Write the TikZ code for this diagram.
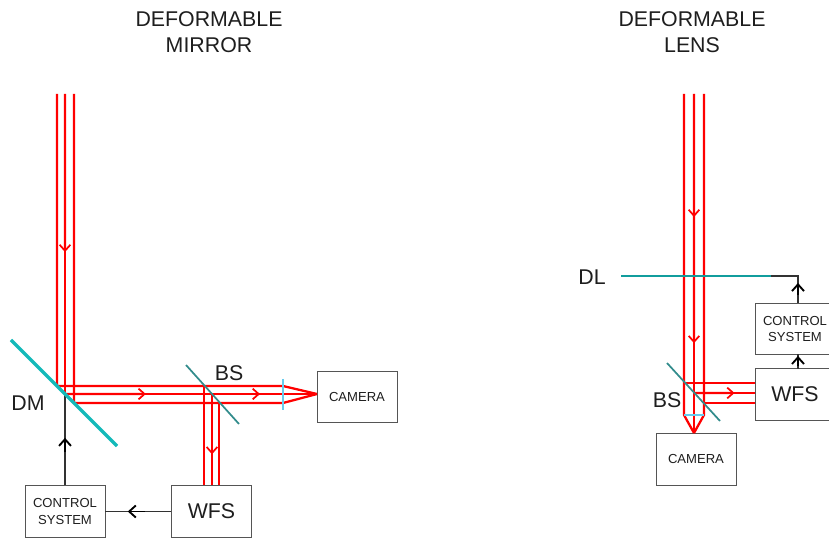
\documentclass[tikz,border=0pt]{standalone}
\usepackage{xcolor}
\usepackage{fontspec}
\setmainfont{Liberation Sans}
\usetikzlibrary{arrows.meta,calc}
\definecolor{beamred}{RGB}{255,0,0}
\definecolor{mirrorteal}{RGB}{20,185,185}
\definecolor{splitteal}{RGB}{50,140,140}
\definecolor{lensblue}{RGB}{102,204,238}
\definecolor{boxgray}{RGB}{85,85,85}
\definecolor{wiregray}{RGB}{50,50,50}
\definecolor{inkgray}{RGB}{30,30,30}
\tikzset{
  beam/.style={line width=1.7pt, color=beamred},
  wire/.style={line width=0.8pt, color=wiregray},
  unitbox/.style={draw=boxgray, line width=0.7pt, minimum width=60pt, minimum height=38.5pt, inner sep=0pt, align=center, text=inkgray, font=\fontsize{9.8}{12.4}\selectfont},
  biglabel/.style={text=inkgray, align=center, inner sep=0pt, font=\fontsize{16}{19}\selectfont},
  redtip/.style={line width=1.7pt, color=beamred, -{Straight Barb[length=4.5pt,width=8pt,line width=1.3pt]}},
  blacktip/.style={line width=1.2pt, color=black, -{Straight Barb[length=5pt,width=9pt,line width=1.4pt]}},
}
\begin{document}
\begin{tikzpicture}[x=0.75pt, y=-0.75pt]
\useasboundingbox (0,0) rectangle (829,538);
\clip (0,0) rectangle (829,538);
% titles
\node[biglabel] (titlemirror) at (209,32) {DEFORMABLE\\MIRROR};
\node[biglabel] (titlelens) at (692,32) {DEFORMABLE\\LENS};
% mirror side
\node[unitbox] (cameraM) at (357,397) {CAMERA};
\node[unitbox, font=\fontsize{16}{19}\selectfont] (wfsM) at (211.5,511.5) {WFS};
\node[unitbox] (controlM) at (65,511.5) {CONTROL\\SYSTEM};
\coordinate (inA) at (57,94);
\coordinate (inB) at (65,94);
\coordinate (inC) at (74,94);
\coordinate (dmA) at (57,386);
\coordinate (dmB) at (65,394);
\coordinate (dmC) at (74,403);
\coordinate (lensA) at (283,386);
\coordinate (lensC) at (283,403);
\coordinate (bsA) at (204,386);
\coordinate (bsB) at (212,394);
\coordinate (bsC) at (219,403);
\coordinate (focusM) at (317,394);
\draw[beam, line join=round] (inA) -- (dmA) -- (lensA) -- (focusM);
\draw[beam] (inB) -- (dmB);
\draw[beam, line join=round] (inC) -- (dmC) -- (lensC) -- (focusM);
\draw[beam] (dmB) -- (focusM);
\draw[beam] (bsA) -- (bsA |- wfsM.north);
\draw[beam] (bsB) -- (bsB |- wfsM.north);
\draw[beam] (bsC) -- (bsC |- wfsM.north);
\draw[redtip] (inB) -- ($(inB)!0.527!(dmB)$);
\draw[redtip] (dmB) -- ($(dmB)!0.55!(bsB)$);
\draw[redtip] (bsB) -- ($(bsB)!0.457!(focusM)$);
\draw[redtip] (bsB) -- ($(bsB)!0.66!(bsB |- wfsM.north)$);
\draw[wire] (controlM.north) -- (dmB);
\draw[wire] (wfsM.west) -- (controlM.east);
\draw[blacktip] ($(controlM.north)!0.36!(dmB)$) -- ($(controlM.north)!0.52!(dmB)$);
\draw[blacktip] ($(wfsM.west)!0.4!(controlM.east)$) -- ($(wfsM.west)!0.66!(controlM.east)$);
\coordinate (dmstart) at (11,340);
\coordinate (dmend) at (117,446);
\draw[line width=2.4pt, color=mirrorteal] (dmstart) -- (dmend);
\coordinate (bsstart) at (186,365);
\coordinate (bsend) at (239,424);
\draw[line width=1.3pt, color=splitteal] (bsstart) -- (bsend);
\coordinate (lenstop) at (283,379);
\coordinate (lensbot) at (283,410);
\draw[line width=1.5pt, color=lensblue] (lenstop) -- (lensbot);
\node[biglabel] (labelDM) at (28,403) {DM};
\node[biglabel] (labelBS) at (229,373) {BS};
% lens side
\node[unitbox] (cameraL) at (696,459.5) {CAMERA};
\node[unitbox, font=\fontsize{16}{19}\selectfont] (wfsL) at (795,394.5) {WFS};
\node[unitbox] (controlL) at (795,329) {CONTROL\\SYSTEM};
\coordinate (topA) at (684,94);
\coordinate (topB) at (694,94);
\coordinate (topC) at (704,94);
\coordinate (focus) at (694,433);
\coordinate (backA) at (684,415);
\coordinate (backC) at (704,415);
\coordinate (hitA) at (684,383);
\coordinate (hitB) at (694,393);
\coordinate (hitC) at (704,403);
\draw[beam, line join=round] (topA) -- (backA) -- (focus);
\draw[beam] (topB) -- (focus);
\draw[beam, line join=round] (topC) -- (backC) -- (focus);
\draw[beam] (hitA) -- (hitA -| wfsL.west);
\draw[beam] (hitB) -- (hitB -| wfsL.west);
\draw[beam] (hitC) -- (hitC -| wfsL.west);
\draw[redtip] (topB) -- ($(topB)!0.363!(focus)$);
\draw[redtip] (topB) -- ($(topB)!0.735!(focus)$);
\draw[redtip] (hitB) -- ($(hitB)!0.67!(hitB -| wfsL.west)$);
\coordinate (dlstart) at (621,276);
\coordinate (dlend) at (771,276);
\coordinate (bendL) at (798,276);
\coordinate (riseA) at (798,303);
\coordinate (riseB) at (798,354);
\coordinate (riseC) at (798,369);
\draw[wire] (riseA) -- (bendL) -- (dlend);
\draw[wire] (riseC) -- (riseB);
\draw[blacktip] ($(riseA)!0.3!(bendL)$) -- ($(riseA)!0.74!(bendL)$);
\draw[blacktip] ($(riseC)!0.2!(riseB)$) -- ($(riseC)!0.87!(riseB)$);
\draw[line width=1.9pt, color=mirrorteal!85!black] (dlstart) -- (dlend);
\coordinate (splitstart) at (667,363);
\coordinate (splitend) at (720,421);
\draw[line width=1.3pt, color=splitteal] (splitstart) -- (splitend);
\draw[line width=1.7pt, color=lensblue] (backA) -- (backC);
\node[biglabel] (labelDL) at (592,277) {DL};
\node[biglabel] (labelBSL) at (667,400) {BS};
\end{tikzpicture}
\end{document}
